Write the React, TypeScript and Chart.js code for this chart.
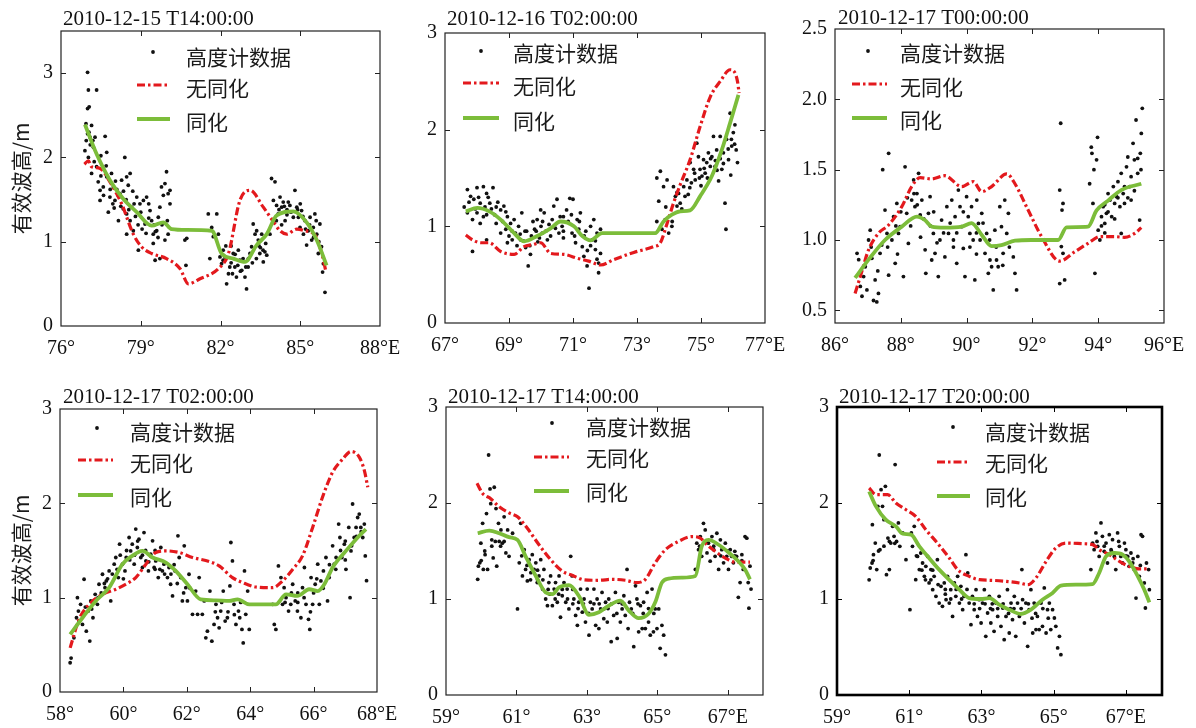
import React, { useEffect, useRef } from 'react';
import { Chart, registerables } from 'chart.js';
Chart.register(...registerables);

type P = [number, number];

const titles = ['2010-12-15 T14:00:00', '2010-12-16 T02:00:00', '2010-12-17 T00:00:00', '2010-12-17 T02:00:00', '2010-12-17 T14:00:00', '2010-12-17 T20:00:00'];
const yAxisTitle = '有效波高/m';
const legendLabels = ['高度计数据', '无同化', '同化'];

// ---------- Panel 1 ----------
const xTicks1 = [76, 79, 82, 85, 88];
const xLabels1 = ['76°', '79°', '82°', '85°', '88°E'];
const yTicks1 = [0, 1, 2, 3];
const assim1: P[] = [[76.9,2.39],[77.34,2.04],[77.84,1.73],[78.34,1.51],[78.85,1.35],[79.41,1.19],[79.85,1.23],[80.16,1.15],[80.73,1.14],[81.67,1.13],[82.04,0.86],[82.48,0.8],[82.92,0.76],[83.36,0.96],[83.74,1.09],[84.11,1.31],[84.74,1.36],[85.24,1.23],[85.62,1.02],[85.99,0.72]];
const noAssim1: P[] = [[76.88,1.92],[77.03,1.96],[77.15,1.89],[77.47,1.87],[77.84,1.71],[78.28,1.45],[78.72,1.09],[79.03,0.94],[79.41,0.86],[79.97,0.8],[80.48,0.68],[80.79,0.5],[81.23,0.56],[81.92,0.68],[82.3,0.86],[82.73,1.49],[83.11,1.61],[83.61,1.41],[83.92,1.27],[84.24,1.13],[84.49,1.09],[84.87,1.15],[85.18,1.13],[85.55,1.08],[85.81,0.86],[85.97,0.64]];
const dots1: P[] = [[77.0,3.01],[77.03,2.8],[77.34,2.8],[77.0,2.58],[77.06,2.6],[76.94,2.4],[77.0,2.28],[77.15,2.38],[77.09,2.24],[77.28,2.24],[76.9,2.08],[77.03,2.0],[77.22,2.12],[77.66,2.25],[77.72,2.06],[77.34,1.89],[77.15,1.81],[77.4,1.71],[77.47,1.61],[77.47,1.49],[77.59,1.65],[77.72,1.77],[77.9,1.81],[77.97,1.65],[77.84,1.53],[77.78,1.35],[78.03,1.49],[78.16,1.25],[78.22,1.57],[78.28,1.73],[78.4,2.0],[78.47,1.77],[78.53,1.67],[78.6,1.81],[78.34,1.39],[78.47,1.33],[78.66,1.41],[78.47,1.09],[78.72,1.13],[78.85,1.53],[78.97,1.45],[78.91,0.9],[79.1,1.49],[79.22,1.53],[79.35,1.37],[79.16,1.21],[79.41,1.25],[79.47,1.09],[79.6,1.13],[79.66,1.29],[79.72,1.41],[79.78,1.65],[79.91,1.69],[79.97,1.83],[80.03,1.57],[80.1,1.61],[80.1,1.45],[79.91,1.02],[80.03,1.09],[79.54,0.78],[79.72,0.8],[79.47,0.98],[80.66,1.02],[80.73,1.04],[80.7,0.72],[81.54,1.33],[81.86,1.33],[81.67,1.17],[81.73,1.06],[81.6,0.8],[81.92,1.09],[81.98,0.82],[82.04,0.74],[82.17,0.82],[82.23,0.5],[82.35,0.7],[82.3,0.62],[82.48,0.86],[82.54,0.7],[82.6,0.58],[82.67,0.9],[82.73,0.78],[82.8,0.66],[82.92,0.58],[82.98,0.44],[83.04,0.7],[83.11,0.86],[83.17,0.94],[83.23,1.21],[83.3,1.09],[83.36,1.13],[83.42,1.02],[83.48,0.86],[83.55,1.09],[83.61,0.76],[83.67,0.88],[83.74,0.84],[83.86,1.09],[83.92,1.75],[84.05,1.71],[83.99,1.49],[84.11,1.43],[84.17,1.33],[84.24,1.53],[84.3,1.41],[84.36,1.47],[84.43,1.25],[84.55,1.47],[84.61,1.43],[84.74,1.29],[84.8,1.61],[84.87,1.41],[84.93,1.29],[84.99,1.17],[85.05,1.37],[85.12,1.09],[85.18,1.25],[85.24,0.96],[85.3,1.13],[85.37,1.29],[85.43,1.02],[85.49,1.17],[85.55,1.33],[85.62,1.09],[85.68,0.86],[85.74,1.21],[85.8,0.94],[85.84,0.64],[85.93,0.4],[85.87,0.74],[78.1,1.62],[78.7,1.6],[79.3,1.45],[82.4,0.95],[82.1,0.9],[83.5,0.93],[84.5,1.38],[85.0,1.45],[77.5,2.02],[78.0,1.4],
  [77.5,1.78],[77.6,1.55],[77.7,1.9],[77.85,1.62],[77.95,1.45],[78.05,1.72],[78.15,1.55],[78.25,1.42],[78.35,1.6],[78.45,1.5],[78.55,1.38],[78.6,1.25],[78.75,1.45],[78.8,1.3],[78.9,1.2],[79.0,1.35],[79.05,1.15],[79.2,1.1],[79.3,1.28],[79.5,1.2],[79.55,1.12],[79.65,1.05],[79.8,1.2],[79.85,1.55],[80.0,1.25],[77.2,2.2],[77.1,2.15],[77.25,1.95],[76.95,2.2],[77.05,2.3],
  [82.1,0.78],[82.2,0.95],[82.4,0.75],[82.45,0.62],[82.55,0.85],[82.65,0.72],[82.75,0.65],[82.85,0.8],[82.95,0.7],[83.05,0.8],[83.2,0.75],[83.35,0.8],[83.45,0.95],[83.6,0.9],[83.7,0.98],
  [84.2,1.38],[84.4,1.42],[84.5,1.32],[84.65,1.35],[84.9,1.38],[85.1,1.3],[85.2,1.15],[85.35,1.2],[85.5,1.05],[85.6,1.25],[85.7,1.0],[84.1,1.25],[84.3,1.2]];

// ---------- Panel 2 ----------
const xTicks2 = [67, 69, 71, 73, 75, 77];
const xLabels2 = ['67°', '69°', '71°', '73°', '75°', '77°E'];
const yTicks2 = [0, 1, 2, 3];
const assim2: P[] = [[67.65,1.155],[68.01,1.19],[68.38,1.155],[68.74,1.07],[69.16,0.93],[69.47,0.845],[69.88,0.9],[70.3,0.98],[70.61,1.05],[71.03,1.0],[71.29,0.9],[71.55,0.855],[71.91,0.93],[72.9,0.93],[73.57,0.93],[73.83,1.05],[74.09,1.12],[74.35,1.155],[74.66,1.165],[74.97,1.31],[75.34,1.52],[75.65,1.79],[75.91,2.07],[76.17,2.36]];
const noAssim2: P[] = [[67.65,0.91],[67.86,0.86],[68.12,0.83],[68.38,0.83],[68.74,0.74],[69.16,0.71],[69.47,0.79],[69.73,0.81],[69.99,0.83],[70.3,0.72],[70.71,0.71],[71.13,0.67],[71.49,0.64],[71.86,0.6],[72.27,0.655],[72.9,0.73],[73.52,0.79],[73.73,0.83],[73.94,1.03],[74.14,1.24],[74.35,1.43],[74.66,1.69],[74.97,2.03],[75.29,2.34],[75.6,2.5],[75.91,2.62],[76.04,2.6],[76.14,2.5],[76.19,2.38]];
const dots2: P[] = [[67.7,1.38],[67.8,1.31],[67.9,1.28],[68.0,1.4],[68.2,1.41],[68.1,1.24],[68.3,1.34],[68.5,1.4],[68.4,1.24],[67.7,1.14],[67.86,1.07],[68.0,1.14],[68.2,1.1],[68.3,1.12],[68.6,1.03],[68.74,1.17],[68.84,1.21],[68.95,1.1],[69.05,1.03],[69.16,1.07],[68.9,0.97],[68.74,0.93],[68.95,0.83],[69.1,0.86],[69.2,0.93],[69.3,1.0],[69.4,1.14],[69.36,0.86],[69.52,0.78],[69.6,0.59],[69.67,0.71],[69.7,0.9],[69.8,0.97],[69.88,1.07],[69.99,1.17],[70.1,1.14],[70.04,0.93],[70.2,0.86],[70.25,1.02],[70.35,1.07],[70.4,1.21],[70.5,1.28],[70.56,0.93],[70.66,1.0],[70.7,1.1],[70.8,1.17],[70.9,1.29],[71.0,1.28],[70.97,0.93],[71.08,0.83],[71.13,1.07],[71.23,1.14],[71.18,0.97],[71.29,0.79],[71.34,0.69],[71.44,0.59],[71.5,0.36],[71.55,1.0],[71.6,0.86],[71.65,1.07],[71.7,0.76],[71.75,0.66],[71.8,0.52],[71.86,0.97],[71.86,0.72],[71.75,0.93],[67.86,0.74],[68.3,0.86],[68.1,1.03],[68.6,1.2],[69.5,0.95],[70.0,1.0],[70.7,0.88],[71.4,0.95],[68.45,1.18],[69.9,0.84],
  [67.6,1.2],[67.75,1.25],[67.95,1.18],[68.05,1.3],[68.25,1.2],[68.35,1.3],[68.55,1.12],[68.65,1.25],[68.8,1.05],[68.9,1.15],[69.0,0.9],[69.1,0.95],[69.25,0.8],[69.35,0.92],[69.45,0.85],[69.55,0.95],[69.65,0.8],[69.75,1.05],[69.85,0.95],[69.95,0.88],[70.05,1.05],[70.15,0.95],[70.3,0.9],[70.45,0.98],[70.6,1.1],[70.7,0.95],[70.85,1.05],[70.95,1.12],[71.05,0.9],[71.2,1.05],[71.35,0.9],[71.45,0.75],[71.55,0.8],[71.7,0.85],[71.8,0.62],
  [73.62,1.5],[73.73,1.57],[73.68,1.26],[73.83,1.41],[73.94,1.48],[73.62,1.05],[73.78,0.97],[73.88,1.07],[73.99,0.93],[74.09,1.0],[74.14,1.41],[74.2,1.31],[74.25,1.21],[74.3,1.34],[74.35,1.24],[74.46,1.41],[74.56,1.48],[74.5,1.31],[74.6,1.33],[74.66,1.66],[74.77,1.59],[74.82,1.48],[74.87,1.86],[74.92,1.72],[74.97,1.59],[75.03,1.52],[75.08,1.69],[75.13,1.55],[75.18,1.66],[75.23,1.76],[75.29,1.62],[75.34,1.72],[75.39,1.93],[75.44,1.62],[75.49,1.79],[75.55,1.47],[75.6,1.93],[75.65,1.59],[75.7,1.76],[75.75,1.24],[75.78,0.97],[75.8,1.9],[75.86,1.69],[75.91,2.17],[75.96,1.83],[76.01,1.97],[76.06,2.05],[76.1,1.79],[76.14,1.66],[75.93,1.53],[74.7,1.45],[75.0,1.42],[74.4,1.18],[73.9,1.2],
  [74.65,1.4],[74.8,1.55],[74.95,1.5],[75.1,1.6],[75.2,1.5],[75.3,1.7],[75.45,1.68],[75.5,1.58],[75.6,1.7],[75.7,1.65],[75.85,1.8],[75.95,1.9],[76.05,1.85],[74.25,1.35],[74.1,1.05]];

// ---------- Panel 3 ----------
const xTicks3 = [86, 88, 90, 92, 94, 96];
const xLabels3 = ['86°', '88°', '90°', '92°', '94°', '96°E'];
const yTicks3 = [0.5, 1.0, 1.5, 2.0, 2.5];
const assim3: P[] = [[86.61,0.73],[87.02,0.86],[87.52,1.0],[88.03,1.095],[88.49,1.166],[88.74,1.14],[88.94,1.095],[89.34,1.088],[89.85,1.095],[90.15,1.12],[90.46,1.036],[90.76,0.957],[91.06,0.964],[91.47,0.995],[91.97,1.0],[92.78,1.0],[93.04,1.09],[93.69,1.095],[93.95,1.21],[94.3,1.28],[94.7,1.355],[95.31,1.4]];
const noAssim3: P[] = [[86.61,0.62],[86.77,0.74],[87.02,0.93],[87.32,1.047],[87.63,1.107],[88.03,1.237],[88.33,1.38],[88.59,1.443],[88.94,1.434],[89.34,1.457],[89.85,1.38],[90.2,1.415],[90.46,1.344],[90.76,1.38],[91.22,1.47],[91.47,1.4],[91.87,1.213],[92.28,1.024],[92.83,0.85],[93.29,0.917],[93.69,0.976],[94.05,1.024],[94.5,1.024],[94.8,1.019],[95.11,1.047],[95.31,1.088]];
const dots3: P[] = [[86.67,0.905],[86.72,0.86],[86.77,0.67],[86.82,0.6],[86.87,0.74],[86.92,0.81],[86.97,0.645],[87.02,1.0],[87.07,1.07],[87.12,0.87],[87.17,0.57],[87.22,0.716],[87.27,0.56],[87.32,0.62],[87.37,0.905],[87.42,0.964],[87.45,1.5],[87.52,1.213],[87.58,1.047],[87.63,1.616],[87.63,0.75],[87.73,1.0],[87.78,1.166],[87.83,0.834],[87.88,1.26],[87.93,1.047],[87.98,1.095],[88.08,0.74],[88.13,1.52],[88.18,1.19],[88.23,0.976],[88.33,1.284],[88.39,1.427],[88.43,1.237],[88.49,1.33],[88.54,1.474],[88.59,1.178],[88.64,1.284],[88.74,0.93],[88.76,0.763],[88.84,1.19],[88.89,1.308],[88.94,0.858],[88.99,1.047],[89.04,0.905],[89.14,0.74],[89.19,1.0],[89.24,1.142],[89.34,0.88],[89.4,1.237],[89.45,1.047],[89.55,1.284],[89.6,1.0],[89.65,1.166],[89.7,0.834],[89.75,1.355],[89.8,1.237],[89.85,1.095],[89.9,0.94],[89.95,0.74],[90.0,1.308],[90.05,1.166],[90.1,1.047],[90.15,1.237],[90.2,1.0],[90.25,0.716],[90.31,1.284],[90.36,1.118],[90.41,1.0],[90.46,1.19],[90.56,0.905],[90.61,1.047],[90.66,0.763],[90.71,0.858],[90.76,0.81],[90.81,0.645],[90.86,1.07],[90.91,0.858],[90.96,0.81],[91.01,1.237],[91.06,1.095],[91.11,0.905],[91.16,1.284],[91.22,1.047],[91.27,1.19],[91.42,0.88],[91.47,0.763],[91.52,0.645],[92.83,1.355],[92.86,1.83],[92.9,1.213],[92.93,1.26],[92.88,0.953],[92.93,0.905],[92.98,0.716],[92.83,0.69],[93.74,1.4],[93.79,1.66],[93.81,1.616],[93.84,1.26],[93.87,1.5],[93.9,0.763],[93.95,1.57],[93.98,1.73],[94.0,1.07],[94.05,1.0],[94.1,1.166],[94.15,1.237],[94.2,1.118],[94.25,1.19],[94.3,1.33],[94.36,1.284],[94.41,1.166],[94.46,1.38],[94.5,1.26],[94.56,1.308],[94.6,1.415],[94.66,1.237],[94.7,1.474],[94.76,1.33],[94.8,1.26],[94.86,1.52],[94.9,1.59],[94.96,1.38],[95.0,1.284],[95.06,1.687],[95.1,1.57],[95.15,1.853],[95.2,1.474],[95.26,1.142],[95.31,1.758],[95.34,1.936],[95.28,1.616],[94.7,1.047],[88.3,1.1],[89.0,1.2],[89.6,0.95],[90.3,1.05],[87.9,0.9],[88.6,1.02],[94.2,1.25],[94.9,1.3],
  [87.1,0.95],[87.3,0.78],[87.6,0.95],[87.85,1.1],[88.0,1.2],[88.2,1.3],[88.4,1.33],[88.5,1.25],[88.7,1.15],[88.9,1.1],[89.1,0.98],[89.3,1.05],[89.5,1.12],[89.7,1.05],[89.9,1.2],[90.1,0.95],[90.3,0.9],[90.5,1.12],[90.7,1.0],[90.9,0.95],[91.1,0.82],[91.3,0.95],[94.3,1.2],[94.5,1.15],[94.6,1.3],[94.8,1.38],[95.0,1.45],[95.1,1.35],[95.2,1.58],[95.3,1.5],[94.1,1.1],[94.2,1.05]];

// ---------- Panel 4 ----------
const xTicks4 = [58, 60, 62, 64, 66, 68];
const xLabels4 = ['58°', '60°', '62°', '64°', '66°', '68°E'];
const yTicks4 = [0, 1, 2, 3];
const assim4: P[] = [[58.32,0.61],[58.71,0.787],[59.13,0.965],[59.55,1.106],[59.97,1.355],[60.28,1.443],[60.6,1.496],[60.92,1.426],[61.34,1.372],[61.65,1.284],[62.02,1.142],[62.44,0.982],[62.92,0.972],[63.34,0.965],[63.6,0.982],[63.97,0.929],[64.39,0.929],[64.81,0.929],[65.13,1.035],[65.49,1.018],[65.86,1.089],[66.13,1.07],[66.34,1.142],[66.6,1.32],[67.02,1.496],[67.34,1.62],[67.65,1.727]];
const noAssim4: P[] = [[58.32,0.468],[58.6,0.77],[58.92,0.929],[59.34,1.035],[59.76,1.089],[60.07,1.142],[60.39,1.213],[60.71,1.355],[61.02,1.479],[61.34,1.496],[61.76,1.479],[62.18,1.426],[62.71,1.383],[63.02,1.337],[63.44,1.213],[63.76,1.16],[64.18,1.113],[64.71,1.106],[65.02,1.177],[65.34,1.3],[65.65,1.443],[65.97,1.745],[66.28,2.064],[66.6,2.33],[66.92,2.47],[67.18,2.55],[67.44,2.49],[67.6,2.35],[67.71,2.17]];
const dots4: P[] = [[58.32,0.31],[58.35,0.36],[58.44,0.574],[58.52,0.787],[58.58,0.858],[58.65,0.929],[58.55,1.0],[58.71,0.716],[58.76,1.195],[58.83,0.645],[58.89,0.858],[58.94,0.54],[58.97,0.965],[59.04,0.787],[59.11,1.035],[59.18,0.929],[59.23,1.142],[59.34,1.248],[59.42,1.106],[59.46,1.177],[59.55,1.284],[59.6,0.965],[59.71,1.355],[59.76,1.426],[59.84,1.213],[59.88,1.567],[59.97,1.355],[60.05,1.284],[60.09,1.426],[60.18,1.638],[60.23,1.496],[60.28,1.567],[60.34,1.355],[60.39,1.727],[60.44,1.532],[60.49,1.62],[60.55,1.426],[60.6,1.32],[60.65,1.69],[60.71,1.39],[60.79,1.284],[60.86,1.461],[60.92,1.603],[60.97,1.32],[61.02,1.39],[61.1,1.213],[61.18,1.532],[61.23,1.284],[61.28,1.355],[61.39,1.213],[61.44,1.32],[61.49,1.142],[61.55,1.018],[61.63,1.284],[61.72,1.656],[61.76,1.426],[61.81,1.213],[61.86,0.965],[61.92,1.55],[61.97,1.106],[62.02,0.965],[62.07,1.248],[62.18,0.823],[62.28,1.07],[62.34,0.823],[62.39,1.213],[62.49,0.823],[62.55,0.965],[62.6,0.574],[62.65,0.645],[62.73,1.07],[62.79,0.539],[62.86,0.716],[62.92,0.929],[62.97,0.787],[63.02,0.68],[63.07,0.858],[63.15,1.07],[63.21,0.752],[63.28,0.787],[63.36,1.124],[63.39,1.585],[63.44,1.39],[63.49,0.929],[63.55,0.716],[63.63,0.858],[63.67,0.787],[63.74,0.663],[63.78,0.52],[63.82,1.284],[63.86,0.823],[63.92,1.07],[63.97,0.663],[64.71,0.929],[64.76,0.716],[64.81,0.663],[64.89,1.337],[64.97,1.213],[65.02,0.929],[65.07,1.106],[65.13,1.0],[65.21,0.858],[65.28,0.929],[65.34,1.142],[65.42,0.965],[65.49,0.858],[65.6,0.787],[65.65,1.106],[65.71,1.32],[65.76,0.929],[65.84,0.77],[65.88,0.663],[65.92,1.213],[65.97,0.929],[66.05,1.142],[66.13,1.355],[66.18,0.929],[66.23,1.177],[66.31,1.284],[66.39,1.426],[66.44,0.965],[66.49,1.213],[66.6,1.55],[66.65,1.355],[66.71,1.426],[66.79,1.78],[66.83,1.638],[66.89,1.426],[66.97,1.567],[67.02,1.3],[67.11,1.745],[67.15,1.0],[67.18,1.496],[67.23,1.993],[67.28,1.638],[67.34,1.745],[67.39,1.85],[67.44,1.886],[67.49,1.745],[67.55,1.638],[67.63,1.443],[67.67,1.18],[60.0,1.2],[60.6,1.45],[61.0,1.5],[61.6,1.35],[59.3,1.05],[65.5,1.05],[66.0,1.05],[67.0,1.4],
  [58.6,0.75],[58.8,0.9],[59.0,0.88],[59.2,1.0],[59.4,1.15],[59.5,1.2],[59.65,1.25],[59.8,1.3],[59.9,1.45],[60.1,1.5],[60.2,1.4],[60.35,1.45],[60.45,1.6],[60.7,1.5],[60.8,1.38],[61.0,1.3],[61.15,1.3],[61.3,1.25],[61.5,1.25],[61.7,1.15],[61.9,1.05],[62.1,1.1],[62.9,0.85],[63.1,0.95],[63.3,0.85],[63.5,0.82],[63.7,0.95],[65.1,0.95],[65.3,1.05],[65.5,0.95],[65.7,1.0],[65.9,0.85],[66.1,1.2],[66.3,1.1],[66.5,1.35],[66.7,1.3],[66.85,1.5],[67.0,1.6],[67.2,1.55],[67.35,1.65],[67.5,1.7],[67.6,1.78]];

// ---------- Panel 5 ----------
const xTicks5 = [59, 61, 63, 65, 67];
const xLabels5 = ['59°', '61°', '63°', '65°', '67°E'];
const yTicks5 = [0, 1, 2, 3];
const assim5: P[] = [[59.9,1.685],[60.23,1.712],[60.51,1.685],[60.79,1.644],[61.03,1.616],[61.26,1.445],[61.55,1.24],[61.83,1.068],[62.02,1.05],[62.21,1.12],[62.49,1.144],[62.77,1.034],[63.06,0.836],[63.34,0.863],[63.62,0.93],[63.95,0.983],[64.19,0.88],[64.47,0.8],[64.75,0.846],[64.94,0.966],[65.13,1.171],[65.32,1.212],[65.7,1.223],[66.08,1.24],[66.26,1.548],[66.45,1.616],[66.74,1.565],[67.02,1.486],[67.3,1.394],[67.49,1.308],[67.63,1.205]];
const noAssim5: P[] = [[59.88,2.205],[60.04,2.1],[60.27,2.045],[60.51,1.96],[60.79,1.897],[61.03,1.856],[61.31,1.736],[61.64,1.565],[61.97,1.41],[62.3,1.29],[62.58,1.247],[62.92,1.2],[63.34,1.195],[63.72,1.205],[64.09,1.195],[64.42,1.171],[64.66,1.205],[64.94,1.377],[65.23,1.514],[65.6,1.6],[65.98,1.65],[66.22,1.634],[66.41,1.565],[66.64,1.497],[66.92,1.428],[67.21,1.384],[67.63,1.384]];
const dots5: P[] = [[59.9,1.205],[59.92,1.342],[59.96,1.377],[59.99,1.582],[60.04,1.788],[60.06,1.308],[60.11,1.462],[60.15,1.89],[60.18,1.308],[60.21,2.5],[60.25,2.147],[60.27,1.993],[60.3,1.616],[60.34,1.428],[60.37,2.164],[60.42,1.942],[60.44,1.342],[60.49,1.788],[60.51,1.6],[60.56,1.72],[60.6,1.582],[60.65,1.856],[60.7,1.48],[60.75,1.72],[60.79,1.445],[60.89,1.685],[61.03,0.897],[61.08,1.377],[61.12,1.788],[61.17,1.24],[61.22,1.514],[61.26,1.308],[61.31,1.188],[61.36,1.41],[61.41,1.274],[61.45,1.462],[61.5,1.308],[61.55,1.377],[61.59,1.171],[61.64,1.24],[61.69,1.41],[61.74,1.103],[61.78,1.308],[61.83,1.0],[61.88,0.93],[61.92,1.171],[61.97,1.24],[62.02,0.93],[62.07,1.103],[62.11,1.171],[62.16,0.966],[62.21,1.24],[62.25,0.81],[62.3,1.034],[62.35,1.171],[62.4,0.966],[62.44,1.103],[62.49,0.897],[62.54,1.445],[62.58,1.24],[62.63,1.0],[62.68,0.829],[62.73,0.726],[62.77,0.966],[62.82,1.103],[62.87,0.863],[62.92,1.0],[62.96,0.76],[63.01,1.103],[63.06,0.623],[63.1,0.966],[63.15,0.897],[63.2,1.103],[63.25,0.726],[63.29,1.0],[63.34,0.692],[63.39,0.897],[63.43,1.068],[63.48,0.795],[63.53,0.966],[63.58,0.76],[63.62,1.0],[63.69,0.555],[63.76,0.829],[63.81,1.068],[63.86,0.589],[63.9,0.966],[63.95,0.76],[64.0,0.897],[64.05,1.034],[64.09,0.829],[64.14,1.308],[64.17,0.692],[64.21,0.966],[64.26,0.897],[64.33,0.503],[64.38,1.137],[64.42,1.0],[64.47,0.658],[64.52,0.93],[64.57,0.692],[64.61,0.966],[64.66,0.692],[64.71,1.068],[64.75,0.76],[64.8,0.623],[64.85,1.103],[64.89,0.658],[64.94,0.897],[64.99,0.692],[65.04,0.897],[65.08,0.486],[65.13,0.726],[65.18,0.623],[65.23,0.418],[66.08,1.308],[66.12,1.582],[66.17,1.514],[66.22,1.65],[66.26,1.445],[66.31,1.788],[66.36,1.72],[66.41,1.48],[66.45,1.582],[66.5,1.394],[66.55,1.65],[66.6,1.514],[66.64,1.445],[66.69,1.685],[66.74,1.308],[66.79,1.616],[66.83,1.514],[66.88,1.377],[66.93,1.582],[66.97,1.445],[67.02,1.308],[67.07,1.514],[67.11,1.445],[67.16,1.377],[67.2,1.497],[67.25,1.445],[67.3,1.017],[67.35,1.171],[67.4,1.462],[67.44,1.308],[67.49,1.65],[67.54,1.634],[67.58,1.171],[67.6,0.904],[67.63,1.342],[67.66,1.103],[61.9,1.1],[62.2,1.05],[61.6,1.2],[63.6,0.9],[64.0,0.95],[62.6,0.95],
  [60.0,1.4],[60.1,1.5],[60.3,1.55],[60.4,1.6],[60.55,1.55],[60.65,1.6],[61.15,1.45],[61.3,1.35],[61.4,1.2],[61.6,1.3],[61.75,1.2],[61.95,1.05],[62.1,1.0],[62.3,1.1],[62.45,1.0],[62.6,1.1],[62.75,0.9],[62.9,0.95],[63.05,0.85],[63.2,0.95],[63.35,0.95],[63.5,0.9],[63.7,0.95],[63.85,0.85],[64.05,0.95],[64.3,0.85],[64.45,0.95],[64.6,0.85],[64.75,0.9],[64.9,0.85],[66.2,1.55],[66.4,1.6],[66.6,1.55],[66.8,1.45],[67.0,1.5],[67.2,1.45],[67.4,1.4]];

// ---------- Panel 6 ----------
const xTicks6 = [59, 61, 63, 65, 67];
const xLabels6 = ['59°', '61°', '63°', '65°', '67°E'];
const yTicks6 = [0, 1, 2, 3];
const assim6: P[] = [[59.89,2.12],[60.08,1.965],[60.35,1.826],[60.63,1.757],[60.82,1.68],[61.05,1.67],[61.28,1.549],[61.55,1.427],[61.83,1.306],[62.11,1.2],[62.39,1.097],[62.66,1.01],[62.98,1.0],[63.22,1.01],[63.49,0.941],[63.77,0.889],[64.09,0.844],[64.37,0.889],[64.69,0.993],[64.97,1.063],[65.2,1.139],[65.62,1.149],[66.08,1.156],[66.26,1.271],[66.45,1.444],[66.68,1.479],[66.91,1.462],[67.09,1.392],[67.33,1.236],[67.51,1.097],[67.65,0.965]];
const noAssim6: P[] = [[59.89,2.156],[60.08,2.087],[60.4,2.087],[60.63,2.0],[60.91,1.93],[61.18,1.861],[61.46,1.722],[61.78,1.583],[62.11,1.427],[62.34,1.306],[62.66,1.236],[62.94,1.201],[63.31,1.194],[63.68,1.184],[64.05,1.167],[64.28,1.149],[64.51,1.219],[64.79,1.392],[65.06,1.531],[65.34,1.583],[65.8,1.576],[66.08,1.566],[66.26,1.514],[66.54,1.462],[66.82,1.392],[67.09,1.34],[67.37,1.313],[67.65,1.313]];
const dots6: P[] = [[59.89,1.2],[59.92,1.323],[59.97,1.375],[59.98,1.774],[60.01,1.462],[60.06,1.583],[60.1,1.306],[60.13,1.965],[60.17,2.5],[60.19,1.514],[60.22,2.139],[60.26,1.965],[60.3,1.826],[60.34,2.174],[60.37,1.253],[60.41,1.635],[60.45,1.306],[60.49,1.583],[60.54,1.757],[60.58,1.653],[60.61,2.4],[60.65,1.6],[60.7,1.792],[60.74,1.549],[60.82,1.688],[60.91,1.41],[61.02,0.889],[61.06,1.688],[61.09,1.549],[61.14,1.757],[61.18,1.201],[61.23,1.444],[61.28,1.306],[61.32,1.479],[61.37,1.375],[61.42,1.236],[61.46,1.34],[61.51,1.444],[61.55,1.167],[61.6,1.306],[61.65,1.097],[61.69,1.236],[61.74,1.028],[61.78,1.41],[61.83,0.958],[61.88,1.132],[61.92,0.924],[61.97,1.167],[62.02,0.993],[62.06,1.236],[62.11,0.958],[62.15,1.097],[62.2,0.819],[62.25,1.167],[62.29,1.028],[62.34,1.236],[62.39,0.958],[62.43,1.132],[62.48,0.889],[62.52,1.028],[62.57,1.462],[62.62,1.271],[62.66,0.958],[62.71,0.733],[62.75,1.028],[62.8,0.889],[62.85,1.097],[62.89,0.819],[62.94,0.993],[62.99,0.75],[63.03,0.958],[63.08,1.097],[63.12,0.611],[63.17,0.854],[63.22,1.028],[63.26,0.75],[63.31,0.889],[63.35,0.663],[63.4,0.958],[63.45,0.819],[63.49,1.028],[63.54,0.715],[63.59,0.906],[63.63,0.576],[63.68,0.819],[63.72,1.097],[63.77,0.646],[63.82,0.958],[63.86,0.785],[63.91,1.028],[63.95,0.611],[64.0,0.958],[64.05,0.819],[64.12,1.306],[64.14,0.993],[64.19,0.75],[64.23,0.958],[64.28,0.507],[64.32,0.889],[64.37,1.097],[64.42,0.646],[64.46,0.958],[64.51,0.681],[64.55,0.819],[64.6,0.681],[64.65,0.958],[64.69,0.715],[64.74,1.115],[64.79,0.646],[64.83,0.889],[64.88,0.958],[64.92,0.681],[64.97,0.889],[65.02,0.802],[65.06,0.715],[65.11,0.49],[65.16,0.611],[65.2,0.42],[66.03,1.306],[66.08,1.583],[66.12,1.514],[66.17,1.688],[66.22,1.549],[66.26,1.444],[66.31,1.792],[66.35,1.653],[66.4,1.497],[66.45,1.583],[66.49,1.375],[66.54,1.67],[66.59,1.514],[66.63,1.618],[66.68,1.444],[66.72,1.306],[66.77,1.688],[66.82,1.549],[66.86,1.444],[66.91,1.375],[66.96,1.583],[67.0,1.514],[67.05,1.444],[67.09,1.34],[67.14,1.479],[67.19,1.375],[67.23,1.306],[67.28,1.01],[67.33,1.444],[67.37,1.236],[67.42,1.67],[67.46,1.653],[67.51,1.167],[67.54,0.906],[67.57,1.375],[67.63,1.306],[67.65,1.097],[61.6,1.2],[62.0,1.1],[63.3,0.95],[63.8,0.9],[64.4,0.8],
  [60.0,1.4],[60.15,1.5],[60.3,1.55],[60.45,1.6],[60.6,1.58],[61.2,1.45],[61.35,1.3],[61.45,1.2],[61.65,1.3],[61.8,1.15],[62.0,1.05],[62.15,1.0],[62.3,1.1],[62.45,1.0],[62.6,1.1],[62.8,0.95],[62.95,0.9],[63.1,0.95],[63.25,0.9],[63.45,0.9],[63.6,0.95],[63.75,0.85],[63.9,0.9],[64.1,0.9],[64.3,0.95],[64.5,0.85],[64.7,0.9],[64.85,0.8],[66.2,1.6],[66.4,1.55],[66.6,1.5],[66.8,1.6],[67.0,1.45],[67.2,1.42],[67.4,1.35]];

type Layout = {
  L: number; T: number; R: number; B: number; cl: number; ct: number;
  titleAt: [number, number];
  dot: [number, number]; lineX: [number, number]; lineY: [number, number];
  textX: number; textY: number[]; frameW: number; yTitle: boolean;
  xMin: number; xMax: number; yMin: number; yMax: number; yFmt: (v: number) => string;
};

const intFmt = (v: number) => String(v);
const decFmt = (v: number) => v.toFixed(1);

const panels = [
  { dots: dots1, noAssim: noAssim1, assim: assim1, xTicks: xTicks1, xLabels: xLabels1, yTicks: yTicks1,
    lay: { L: 61, T: 31, R: 380, B: 326, cl: 0, ct: 0, titleAt: [63, 25], dot: [92, 21], lineX: [76, 109], lineY: [54, 88], textX: 125, textY: [26, 57, 91], frameW: 1.2, yTitle: true, xMin: 76, xMax: 88, yMin: 0, yMax: 3.5, yFmt: intFmt } as Layout },
  { dots: dots2, noAssim: noAssim2, assim: assim2, xTicks: xTicks2, xLabels: xLabels2, yTicks: yTicks2,
    lay: { L: 445, T: 33, R: 765, B: 323, cl: 400, ct: 0, titleAt: [447, 25], dot: [36, 18], lineX: [18, 54], lineY: [50, 85], textX: 68, textY: [20, 53, 88], frameW: 1.2, yTitle: false, xMin: 67, xMax: 77, yMin: 0, yMax: 3, yFmt: intFmt } as Layout },
  { dots: dots3, noAssim: noAssim3, assim: assim3, xTicks: xTicks3, xLabels: xLabels3, yTicks: yTicks3,
    lay: { L: 835, T: 29, R: 1164, B: 323, cl: 790, ct: 0, titleAt: [838, 23.5], dot: [33, 22], lineX: [17, 52], lineY: [55, 89], textX: 65, textY: [24, 58, 91], frameW: 1.2, yTitle: false, xMin: 86, xMax: 96, yMin: 0.41, yMax: 2.5, yFmt: decFmt } as Layout },
  { dots: dots4, noAssim: noAssim4, assim: assim4, xTicks: xTicks4, xLabels: xLabels4, yTicks: yTicks4,
    lay: { L: 60, T: 409, R: 377, B: 692, cl: 0, ct: 370, titleAt: [63, 403], dot: [37, 19], lineX: [18, 53], lineY: [51, 86], textX: 70, textY: [23, 54, 88], frameW: 1.2, yTitle: true, xMin: 58, xMax: 68, yMin: 0, yMax: 3, yFmt: intFmt } as Layout },
  { dots: dots5, noAssim: noAssim5, assim: assim5, xTicks: xTicks5, xLabels: xLabels5, yTicks: yTicks5,
    lay: { L: 446, T: 407, R: 763, B: 695, cl: 400, ct: 370, titleAt: [448, 403], dot: [106, 16], lineX: [88, 123], lineY: [50, 84], textX: 140, textY: [20, 51, 85], frameW: 1.2, yTitle: false, xMin: 59, xMax: 68, yMin: 0, yMax: 3, yFmt: intFmt } as Layout },
  { dots: dots6, noAssim: noAssim6, assim: assim6, xTicks: xTicks6, xLabels: xLabels6, yTicks: yTicks6,
    lay: { L: 837, T: 407, R: 1162, B: 695, cl: 790, ct: 370, titleAt: [839, 403], dot: [116, 20], lineX: [100, 133], lineY: [55, 89], textX: 148, textY: [25, 56, 90], frameW: 2.6, yTitle: false, xMin: 59, xMax: 68, yMin: 0, yMax: 3, yFmt: intFmt } as Layout },
];

const RED = '#e3191d';
const GREEN = '#7cbd3a';
const SERIF = 'Liberation Serif';
const CJK = 'Noto Sans CJK SC';
const X_AXIS_H = 36;

function Panel({ idx }: { idx: number }) {
  const ref = useRef<HTMLCanvasElement>(null);
  const p = panels[idx];
  const lay = p.lay;
  const padR = Math.min(40, 1196 - lay.R);
  const width = lay.R + padR - lay.cl;
  const height = lay.B + X_AXIS_H - lay.ct;

  useEffect(() => {
    if (!ref.current) return;
    const toXY = (arr: P[]) => arr.map(([x, y]) => ({ x, y }));
    const decor = {
      id: 'decor' + idx,
      afterDatasetsDraw(chart: any) {
        const { ctx, chartArea: a, scales } = chart;
        ctx.save();
        // title
        ctx.fillStyle = '#111';
        ctx.font = '21px "' + SERIF + '"';
        ctx.textAlign = 'left';
        ctx.textBaseline = 'alphabetic';
        ctx.fillText(titles[idx], lay.titleAt[0] - lay.cl, lay.titleAt[1] - lay.ct);
        // frame
        ctx.strokeStyle = lay.frameW > 2 ? '#000' : '#222';
        ctx.lineWidth = lay.frameW;
        ctx.strokeRect(a.left, a.top, a.right - a.left, a.bottom - a.top);
        // inward ticks
        ctx.lineWidth = 1;
        const tl = 5;
        p.xTicks.forEach((v) => {
          const px = Math.round(scales.x.getPixelForValue(v)) + 0.5;
          if (px <= a.left + 1 || px >= a.right - 1) return;
          ctx.beginPath();
          ctx.moveTo(px, a.bottom); ctx.lineTo(px, a.bottom - tl);
          ctx.moveTo(px, a.top); ctx.lineTo(px, a.top + tl);
          ctx.stroke();
        });
        p.yTicks.forEach((v) => {
          const py = Math.round(scales.y.getPixelForValue(v)) + 0.5;
          if (py <= a.top + 1 || py >= a.bottom - 1) return;
          ctx.beginPath();
          ctx.moveTo(a.left, py); ctx.lineTo(a.left + tl, py);
          ctx.moveTo(a.right, py); ctx.lineTo(a.right - tl, py);
          ctx.stroke();
        });
        // legend
        const ox = a.left, oy = a.top;
        ctx.fillStyle = '#111';
        ctx.beginPath();
        ctx.arc(ox + lay.dot[0], oy + lay.dot[1], 1.9, 0, Math.PI * 2);
        ctx.fill();
        ctx.lineCap = 'butt';
        ctx.strokeStyle = RED;
        ctx.lineWidth = 3.2;
        ctx.setLineDash([8, 3, 2.5, 3]);
        ctx.beginPath();
        ctx.moveTo(ox + lay.lineX[0], oy + lay.lineY[0]);
        ctx.lineTo(ox + lay.lineX[1], oy + lay.lineY[0]);
        ctx.stroke();
        ctx.setLineDash([]);
        ctx.strokeStyle = GREEN;
        ctx.lineWidth = 3.8;
        ctx.beginPath();
        ctx.moveTo(ox + lay.lineX[0], oy + lay.lineY[1]);
        ctx.lineTo(ox + lay.lineX[1], oy + lay.lineY[1]);
        ctx.stroke();
        ctx.fillStyle = '#1a1a1a';
        ctx.font = '21px "' + CJK + '"';
        ctx.textBaseline = 'middle';
        legendLabels.forEach((t, i) => ctx.fillText(t, ox + lay.textX, oy + lay.textY[i]));
        ctx.restore();
      },
    };

    const chart = new Chart(ref.current, {
      type: 'scatter',
      data: {
        datasets: [
          { label: legendLabels[2], data: toXY(p.assim), showLine: true, borderColor: GREEN, borderWidth: 3.8, pointRadius: 0, cubicInterpolationMode: 'monotone', order: 0 } as any,
          { label: legendLabels[1], data: toXY(p.noAssim), showLine: true, borderColor: RED, borderWidth: 3.2, borderDash: [8, 3, 2.5, 3], pointRadius: 0, cubicInterpolationMode: 'monotone', order: 1 } as any,
          { label: legendLabels[0], data: toXY(p.dots), showLine: false, pointRadius: 1.9, pointBorderWidth: 0, backgroundColor: '#111', borderColor: '#111', order: 2 } as any,
        ],
      },
      options: {
        animation: false,
        responsive: false,
        devicePixelRatio: 1,
        events: [],
        layout: { padding: { left: 0, top: lay.T - lay.ct, right: padR, bottom: 0 } },
        plugins: { legend: { display: false }, tooltip: { enabled: false }, title: { display: false } },
        scales: {
          x: {
            type: 'linear', min: lay.xMin, max: lay.xMax,
            grid: { display: false, drawTicks: false },
            border: { display: false },
            afterBuildTicks: (s: any) => { s.ticks = p.xTicks.map((v) => ({ value: v })); },
            afterFit: (s: any) => { s.height = X_AXIS_H; },
            ticks: {
              autoSkip: false, maxRotation: 0, padding: 11, color: '#111',
              font: { family: SERIF, size: 20 },
              callback: (v: any) => { const i = p.xTicks.indexOf(Number(v)); return i >= 0 ? p.xLabels[i] : ''; },
            },
          },
          y: {
            type: 'linear', min: lay.yMin, max: lay.yMax,
            grid: { display: false, drawTicks: false },
            border: { display: false },
            afterBuildTicks: (s: any) => { s.ticks = p.yTicks.map((v) => ({ value: v })); },
            afterFit: (s: any) => { s.width = lay.L - lay.cl; },
            ticks: {
              autoSkip: false, padding: 8, color: '#111',
              font: { family: SERIF, size: 20 },
              callback: (v: any) => lay.yFmt(Number(v)),
            },
            title: {
              display: lay.yTitle, text: yAxisTitle, color: '#1a1a1a',
              font: { family: CJK, size: 21 }, padding: { top: 8, bottom: 0 },
            },
          },
        },
      },
      plugins: [decor],
    } as any);
    return () => chart.destroy();
  }, [idx]);

  return (
    <canvas
      ref={ref}
      width={width}
      height={height}
      style={{ position: 'absolute', left: lay.cl, top: lay.ct, width, height }}
    />
  );
}

export default function App() {
  return (
    <div style={{ position: 'fixed', left: 0, top: 0, width: 1196, height: 728, background: '#fff', overflow: 'hidden' }}>
      {panels.map((_, i) => <Panel key={i} idx={i} />)}
    </div>
  );
}
